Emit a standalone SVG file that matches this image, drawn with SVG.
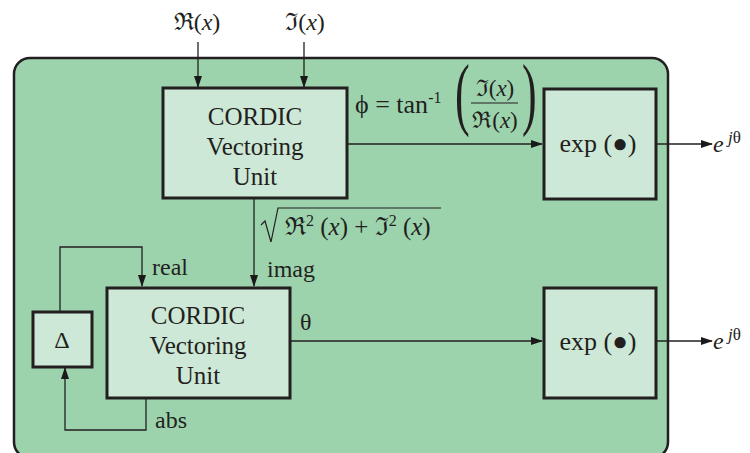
<svg xmlns="http://www.w3.org/2000/svg" width="750" height="453" viewBox="0 0 750 453">
<defs>
<marker id="ah" markerWidth="12" markerHeight="8" refX="11" refY="4" orient="auto" markerUnits="userSpaceOnUse">
<path d="M0,0 L12,4 L0,8 Z" fill="#1a1a1a"/>
</marker>
<style>
.box{fill:#cde8d6;stroke:#231f20;stroke-width:3}
.ln{fill:none;stroke:#231f20;stroke-width:1.3}
.t{font-family:"Liberation Serif","DejaVu Serif",serif;fill:#231f20}
.c{text-anchor:middle}
.m{font-size:25px}
.l{font-size:24px}
</style>
</defs>
<rect width="750" height="453" fill="#ffffff"/>
<rect x="14" y="58" width="654" height="400" rx="16" fill="#9cd3ad" stroke="#231f20" stroke-width="2.5"/>

<g id="connectors">
<path class="ln" d="M198,42 V87" marker-end="url(#ah)"/>
<path class="ln" d="M304,42 V87" marker-end="url(#ah)"/>
<path class="ln" d="M348,144 H542" marker-end="url(#ah)"/>
<path class="ln" d="M657,144 H712" marker-end="url(#ah)"/>
<path class="ln" d="M254,199 V286" marker-end="url(#ah)"/>
<path class="ln" d="M60,311 V247 H142 V286" marker-end="url(#ah)"/>
<path class="ln" d="M146,399 V430 H65 V368" marker-end="url(#ah)"/>
<path class="ln" d="M291,341 H542" marker-end="url(#ah)"/>
<path class="ln" d="M657,341 H712" marker-end="url(#ah)"/>
</g>

<g id="lbl-in">
<text class="t c" x="197" y="30" font-size="24">ℜ(<tspan font-style="italic">x</tspan>)</text>
<text class="t c" x="305" y="30" font-size="24">ℑ(<tspan font-style="italic">x</tspan>)</text>
</g>

<g id="cordic1">
<rect class="box" x="163" y="88" width="184" height="110"/>
<text class="t c m" x="255" y="125">CORDIC</text>
<text class="t c m" x="255" y="155">Vectoring</text>
<text class="t c m" x="255" y="185">Unit</text>
</g>

<g id="exp1">
<rect class="box" x="544" y="89" width="112" height="110"/>
<text class="t c" x="598" y="152" font-size="26">exp (●)</text>
</g>

<g id="cordic2">
<rect class="box" x="107" y="288" width="183" height="110"/>
<text class="t c m" x="198" y="324">CORDIC</text>
<text class="t c m" x="198" y="354">Vectoring</text>
<text class="t c m" x="198" y="384">Unit</text>
</g>

<g id="exp2">
<rect class="box" x="544" y="288" width="112" height="110"/>
<text class="t c" x="598" y="350" font-size="26">exp (●)</text>
</g>

<g id="delta">
<rect class="box" x="33" y="312" width="59" height="55"/>
<text class="t c" x="62" y="348" font-size="24">Δ</text>
</g>

<g id="labels">
<text class="t" x="355" y="113" font-size="26">ϕ = tan<tspan font-size="16" dy="-10">-1</tspan></text>
<text class="t" x="455" y="120" font-size="80" transform="translate(455 0) scale(0.55 1) translate(-455 0)">(</text>
<text class="t" x="522" y="120" font-size="80" transform="translate(522 0) scale(0.55 1) translate(-522 0)">)</text>
<text class="t c" x="495" y="96" font-size="23">ℑ(<tspan font-style="italic">x</tspan>)</text>
<line x1="471" y1="103" x2="518" y2="103" stroke="#231f20" stroke-width="1.2"/>
<text class="t c" x="495" y="128" font-size="23">ℜ(<tspan font-style="italic">x</tspan>)</text>

<path d="M261,225 L265,221 L271,242 L278,208 H441" fill="none" stroke="#231f20" stroke-width="1.2"/>
<text class="t" x="285" y="235" font-size="25">ℜ<tspan font-size="16" dy="-9">2</tspan><tspan dy="9"> (</tspan><tspan font-style="italic">x</tspan>) + ℑ<tspan font-size="16" dy="-9">2</tspan><tspan dy="9"> (</tspan><tspan font-style="italic">x</tspan>)</text>

<text class="t l" x="267" y="277">imag</text>
<text class="t l" x="152" y="275">real</text>
<text class="t l" x="155" y="428">abs</text>
<text class="t l" x="300" y="330">θ</text>

<text class="t" x="713" y="152" font-size="24" font-style="italic">e</text>
<text class="t" x="728" y="143" font-size="17"><tspan font-style="italic">j</tspan>θ</text>
<text class="t" x="713" y="349" font-size="24" font-style="italic">e</text>
<text class="t" x="728" y="340" font-size="17"><tspan font-style="italic">j</tspan>θ</text>
</g>
</svg>
